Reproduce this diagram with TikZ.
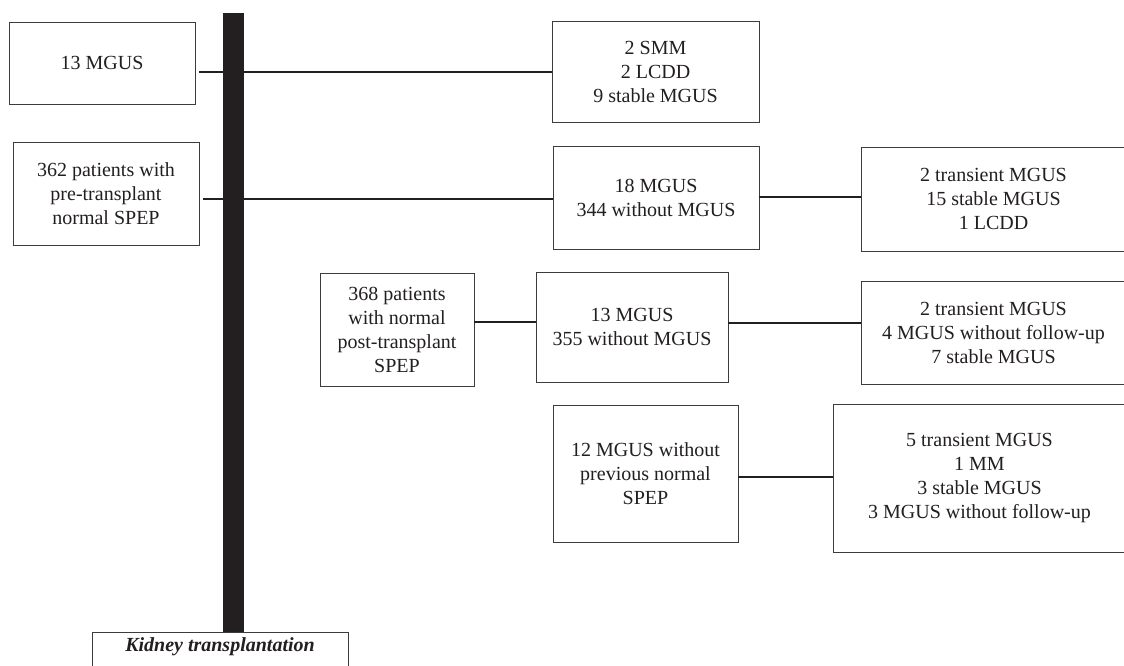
\documentclass[tikz,border=0pt]{standalone}
\usepackage{fontspec}
\setmainfont{Liberation Serif}
\usepackage{tikz}
\usetikzlibrary{positioning,calc}
\definecolor{ink}{RGB}{35,31,32}
\definecolor{edge}{RGB}{60,60,60}
\tikzset{
  box/.style={draw=edge, line width=0.9pt, fill=white, text=ink, inner sep=0pt,
              align=center, font=\fontsize{20}{24}\selectfont},
  bar/.style={fill=ink, draw=none, inner sep=0pt, minimum width=21pt},
  link/.style={ink, line width=1.2pt},
}
\begin{document}
\begin{tikzpicture}[x=1pt,y=-1pt]
        \useasboundingbox (0,0) rectangle (1124,666);
        \clip (0,0) rectangle (1124,666);
        % left column
        \node[box, minimum width=186pt, minimum height=82pt] (mgus) at (102,63) {13 MGUS};
        \node[box, minimum width=186pt, minimum height=103pt] (pre) at (106,193.5) {362 patients with\\pre-transplant\\normal SPEP};
        % follow-up column
        \node[box, minimum width=207pt, minimum height=101pt] (smm) at (655.5,71.5) {2 SMM\\2 LCDD\\9 stable MGUS};
        \node[box, minimum width=206pt, minimum height=103pt] (fu1) at (656,197.5) {18 MGUS\\344 without MGUS};
        \node[box, minimum width=154pt, minimum height=113pt] (post) at (397,329.5) {368 patients\\with normal\\post-transplant\\SPEP};
        \node[box, minimum width=192pt, minimum height=110pt] (fu2) at (632,327) {13 MGUS\\355 without MGUS};
        \node[box, minimum width=185pt, minimum height=137pt] (nopre) at (645.5,473.5) {12 MGUS without\\previous normal\\SPEP};
        % outcomes
        \node[box, minimum width=265pt, minimum height=104pt] (res1) at (993.5,199) {2 transient MGUS\\15 stable MGUS\\1 LCDD};
        \node[box, minimum width=265pt, minimum height=103pt] (res2) at (993.5,332.5) {2 transient MGUS\\4 MGUS without follow-up\\7 stable MGUS};
        \node[box, minimum width=293pt, minimum height=148pt] (res3) at (979.5,478) {5 transient MGUS\\1 MM\\3 stable MGUS\\3 MGUS without follow-up};
        % connectors
        \coordinate (y1) at (0,72);
        \coordinate (y2) at (0,199);
        \coordinate (y3) at (0,197);
        \coordinate (y4) at (0,322);
        \coordinate (y5) at (0,323);
        \coordinate (y6) at (0,477);
        \draw[link, shorten <=4pt] (mgus.east |- y1) -- (smm.west |- y1);
        \draw[link, shorten <=4pt] (pre.east |- y2) -- (fu1.west |- y2);
        \draw[link] (fu1.east |- y3) -- (res1.west |- y3);
        \draw[link] (post.east |- y4) -- (fu2.west |- y4);
        \draw[link] (fu2.east |- y5) -- (res2.west |- y5);
        \draw[link] (nopre.east |- y6) -- (res3.west |- y6);
        % time axis
        \node[bar, minimum height=619pt, anchor=north] (axis) at (233.5,13) {};
        \node[box, anchor=north, minimum width=256pt, text height=19pt, text depth=30pt,
              font=\fontsize{20}{24}\selectfont\bfseries\itshape] (kt) at (axis.south -| 220,0) {Kidney transplantation};
      \end{tikzpicture}
\end{document}
